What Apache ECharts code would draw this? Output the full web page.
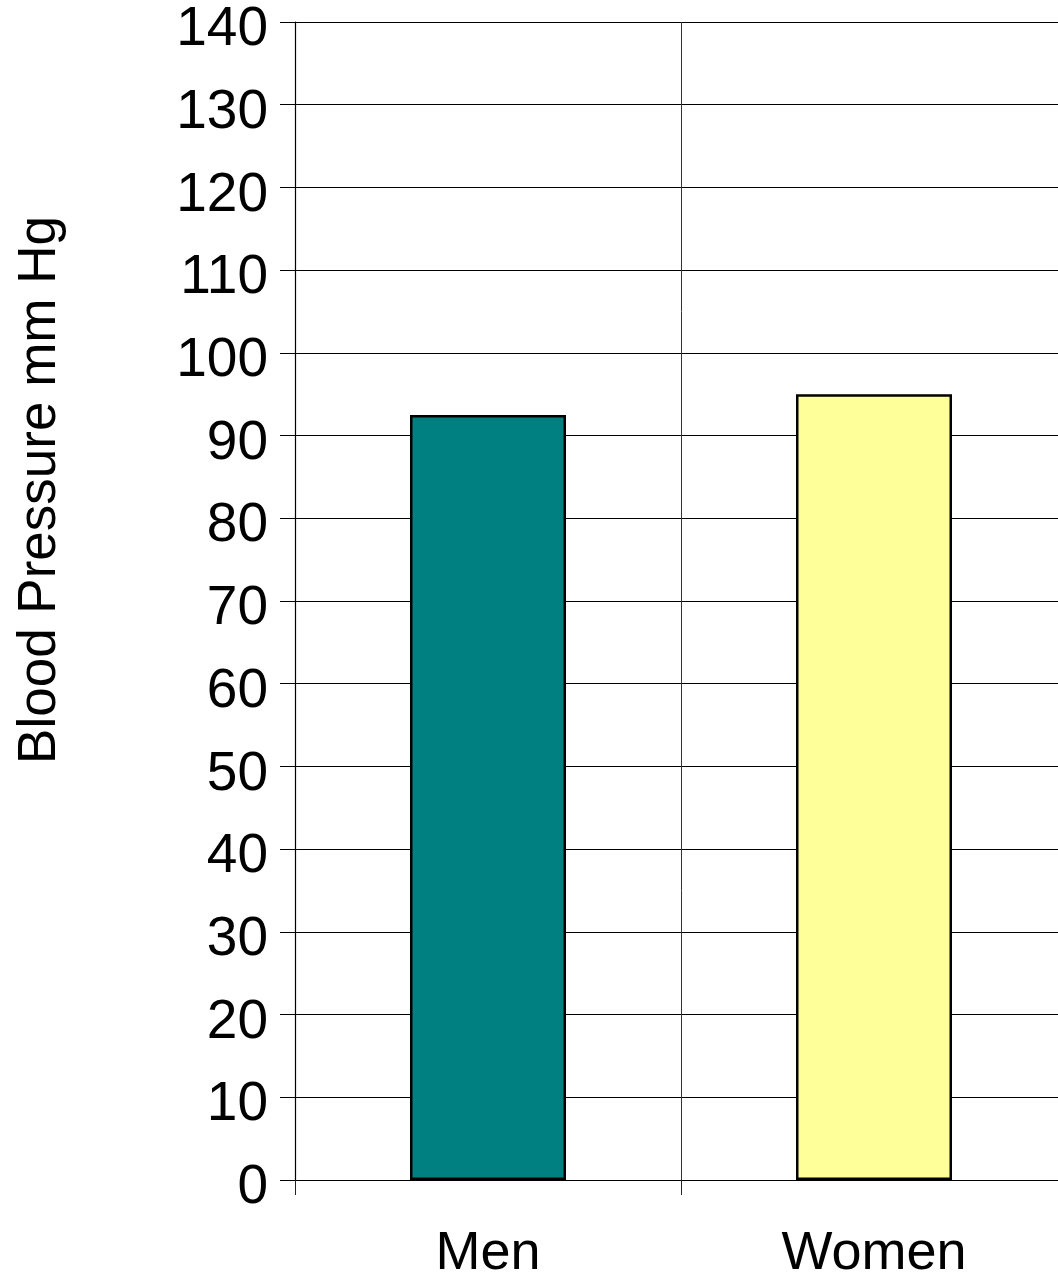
<!DOCTYPE html>
<html>
<head>
<meta charset="utf-8">
<script src="https://cdn.jsdelivr.net/npm/echarts@6/dist/echarts.min.js"></script>
<style>
  html, body { margin: 0; padding: 0; background: #fff; }
  #chart { width: 1058px; height: 1278px; }
</style>
</head>
<body>
<div id="chart"></div>
<script>
// Mean blood pressure by group
const categories = ['Men', 'Women'];
const pressureValues = [92.5, 95];
const barColors = ['#008080', '#FFFF99'];
const yTicks = { min: 0, max: 140, step: 10 };
const yTitle = 'Blood Pressure mm Hg';

const FONT = '"Liberation Sans", Arial, sans-serif';

const chart = echarts.init(document.getElementById('chart'), null, { renderer: 'canvas' });

chart.setOption({
  animation: false,
  backgroundColor: '#ffffff',
  grid: { left: 295, top: 22, width: 772, height: 1158, containLabel: false, outerBoundsMode: 'none' },
  xAxis: {
    type: 'category',
    data: categories,
    boundaryGap: true,
    axisLine: { show: true, lineStyle: { color: '#000', width: 1.2 } },
    axisTick: { show: true, inside: false, length: 15, interval: 0, alignWithLabel: false,
                lineStyle: { color: '#222', width: 1 } },
    splitLine: { show: true, interval: 0, lineStyle: { color: '#333', width: 1 } },
    axisLabel: { color: '#000', fontFamily: FONT, fontSize: 54, margin: 47, interval: 0 }
  },
  yAxis: {
    type: 'value',
    min: yTicks.min,
    max: yTicks.max,
    interval: yTicks.step,
    axisLine: { show: true, lineStyle: { color: '#000', width: 1.2 } },
    axisTick: { show: true, inside: false, length: 15, lineStyle: { color: '#000', width: 1 } },
    splitLine: { show: true, lineStyle: { color: '#000', width: 1 } },
    axisLabel: {
      margin: 27,
      formatter: '{v|{value}}',
      rich: {
        v: { color: '#000', fontFamily: FONT, fontSize: 55, padding: [16, 0, 0, 0] }
      }
    }
  },
  graphic: [{
    type: 'text',
    x: 40,
    y: 490,
    rotation: Math.PI / 2,
    style: {
      text: yTitle,
      fill: '#000',
      font: '53px ' + FONT,
      textAlign: 'center',
      textVerticalAlign: 'middle'
    }
  }],
  series: [{
    type: 'bar',
    barWidth: 156,
    data: pressureValues.map((v, i) => ({
      value: v,
      itemStyle: { color: barColors[i], borderColor: '#000', borderWidth: 2.5 }
    }))
  }]
});
</script>
</body>
</html>
